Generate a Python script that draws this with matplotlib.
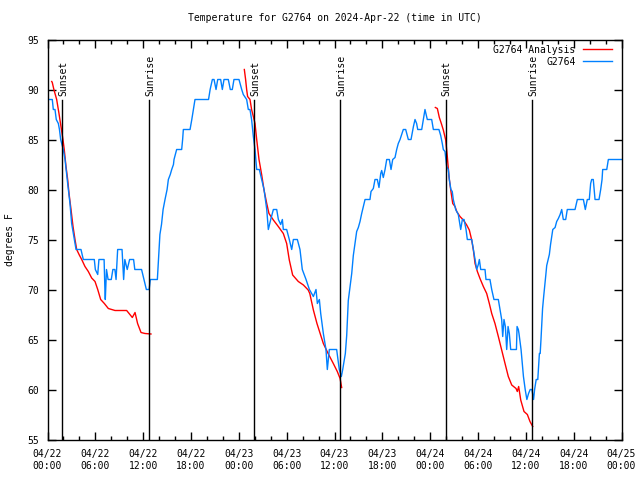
import matplotlib
matplotlib.use("Agg")
import numpy as np
import matplotlib.pyplot as plt
from matplotlib.ticker import MultipleLocator

# hours since 2024-04-22 00:00 UTC, temperatures in deg F
obs_hours = [0.0, 0.6, 0.73, 0.94, 1.1, 1.36, 1.5, 1.65, 1.98, 2.2, 2.53, 2.82, 3.03, 3.36,
             3.58, 4.2, 4.49, 5.87, 6.0, 6.3, 6.45, 7.1, 7.2, 7.25, 7.4, 7.6, 8.0, 8.2, 8.45,
             8.6, 8.8, 9.35, 9.55, 9.7, 10.0, 10.3, 10.8, 10.95, 11.8, 12.1, 12.4, 12.75, 12.9,
             13.78, 14.1, 14.3, 14.5, 14.74, 15.0, 15.16, 15.4, 15.58, 15.8, 15.87, 16.2, 16.83,
             16.95, 17.04, 17.88, 18.1, 18.3, 18.5, 20.2, 20.4, 20.68, 20.89, 21.14, 21.35,
             21.72, 21.93, 22.14, 22.68, 22.93, 23.18, 23.39, 24.02, 24.36, 24.56, 24.98, 25.19,
             25.4, 25.6, 25.82, 26.03, 26.24, 26.57, 26.87, 27.16, 27.5, 27.7, 28.0, 28.33,
             28.75, 28.96, 29.25, 29.46, 29.58, 30.0, 30.33, 30.63, 30.84, 31.34, 31.67, 31.96,
             32.43, 32.85, 33.35, 33.68, 33.85, 34.1, 34.27, 34.6, 34.93, 35.1, 35.35, 36.27,
             36.6, 36.86, 37.03, 37.15, 37.36, 37.53, 37.73, 37.95, 38.16, 38.36, 38.57, 38.78,
             38.99, 39.2, 39.41, 39.62, 39.83, 40.45, 40.58, 40.87, 41.08, 41.37, 41.58, 41.8,
             41.92, 42.12, 42.34, 42.55, 42.88, 43.09, 43.3, 43.59, 43.8, 44.0, 44.22, 44.43,
             44.63, 44.93, 45.26, 45.6, 45.9, 46.1, 46.3, 46.44, 46.94, 47.14, 47.35, 47.64,
             48.19, 48.4, 49.1, 49.32, 49.52, 49.65, 49.86, 50.07, 50.28, 50.4, 50.6, 50.77,
             50.9, 51.2, 51.53, 51.83, 52.04, 52.25, 52.5, 52.66, 53.21, 53.42, 53.63, 53.84,
             54.04, 54.17, 54.34, 54.88, 55.0, 55.5, 55.72, 56.0, 56.55, 56.76, 56.97, 57.1,
             57.26, 57.43, 57.6, 57.77, 57.93, 58.1, 58.82, 58.9, 59.06, 59.14, 59.4, 59.7,
             59.92, 60.13, 60.34, 60.55, 60.76, 60.97, 61.1, 61.3, 61.5, 61.7, 61.8, 61.9, 62.0,
             62.1, 62.25, 62.38, 62.5, 62.62, 62.8, 62.95, 63.1, 63.25, 63.38, 63.67, 63.87,
             64.08, 64.3, 64.5, 64.7, 65.0, 65.2, 66.17, 66.46, 67.22, 67.46, 67.71, 67.96,
             68.13, 68.26, 68.46, 68.68, 69.18, 69.39, 69.56, 69.64, 70.15, 70.35, 72.0]
obs_temps = [89, 89, 88, 88, 87, 86.6, 86, 85, 84, 83, 80.6, 78.6, 76.6, 75,
             74, 74, 73, 73, 72, 71.5, 73, 73, 70, 69, 72, 71, 71, 72, 72,
             71, 74, 74, 71, 73, 72, 73, 73, 72, 72, 71, 70, 70, 71,
             71, 75.5, 76.5, 78, 79, 80, 81, 81.5, 82, 82.5, 83, 84, 84,
             85, 86, 86, 87, 88, 89, 89, 90, 91, 91, 90, 91,
             91, 90, 91, 91, 90, 90, 91, 91, 90, 89.5, 89, 88,
             88, 87, 85.3, 84, 82, 82, 81, 80, 78, 76, 77, 78,
             78, 77, 76.5, 77, 76, 76, 75, 74, 75, 75, 74, 72,
             71, 70, 69.3, 70, 68.6, 69, 67.6, 65.6, 64, 62, 64, 64,
             62, 61.3, 62, 62.6, 63.6, 65.4, 68.9, 70.3, 71.6, 73.4, 74.6, 75.8,
             76.2, 76.8, 77.6, 78.3, 79, 79, 79.8, 80.1, 81, 81, 80.2, 81.6,
             81.9, 81.2, 82, 83, 83, 82, 83, 83.2, 84, 84.6, 85, 85.5,
             86, 86, 85, 85, 86.3, 87, 86.6, 86, 86, 87, 88, 87,
             87, 86, 86, 85.4, 84.6, 84, 83.8, 82.3, 82, 81, 80, 79.8,
             79, 78, 77.5, 76, 77, 77, 76, 75, 75, 74, 73, 72,
             72.5, 73, 72, 72, 71, 71, 70, 69, 69, 68, 67, 65.3,
             67, 66.3, 64, 66.3, 65.6, 64, 64, 66.3, 66, 65.6, 64, 61.3,
             60, 59, 59.6, 60, 60, 59, 60, 61, 61, 63.6, 63.6, 65, 66.6,
             68.1, 69.4, 70.4, 71.4, 72.4, 73, 73.5, 74.5, 75.3, 76, 76.2, 76.8,
             77.1, 77.5, 78, 77, 77, 78, 78, 79, 79, 78, 79, 79,
             80.6, 81, 81, 79, 79, 80, 81, 82, 82, 83, 83]

ana1_hours = [0.53, 0.6, 0.8, 1.15, 1.44, 1.69, 1.94, 2.1, 2.32, 2.53, 2.7, 2.95, 3.2, 3.45,
              3.66, 3.99, 4.29, 4.7, 5.12, 5.54, 5.96, 6.3, 6.67, 7.13, 7.63, 8.47, 9.93,
              10.64, 10.98, 11.3, 11.73, 12.23, 12.98]
ana1_temps = [90.8, 90.7, 90.0, 89.0, 87.6, 86.3, 85.0, 84.0, 82.3, 81.0, 79.6, 78.0, 76.3, 75.0,
              74.0, 73.45, 73.0, 72.3, 71.8, 71.15, 70.8, 70.0, 69.0, 68.6, 68.1, 67.9, 67.9,
              67.2, 67.7, 66.6, 65.7, 65.6, 65.55]
ana2_hours = [24.69, 24.85, 24.98, 25.1, 25.4, 25.6, 25.82, 26.03, 26.24, 26.53, 26.87, 27.16,
              27.5, 27.78, 28.33, 28.95, 29.58, 30.0, 30.33, 30.75, 31.46, 32.1, 32.7, 32.9,
              33.35, 33.8, 34.2, 34.6, 35.2, 35.85, 36.35, 36.7, 36.9]
ana2_temps = [92.0, 91.0, 90.0, 89.3, 89.0, 88.0, 87.3, 86.6, 85.0, 83.0, 81.45, 79.95,
              78.6, 77.6, 76.95, 76.3, 75.6, 74.6, 72.95, 71.45, 70.8, 70.45, 69.95, 69.6,
              67.95, 66.6, 65.6, 64.6, 63.6, 62.6, 61.8, 61.1, 60.2]
ana3_hours = [48.65, 48.9, 49.15, 49.4, 49.65, 49.95, 50.15, 50.36, 50.58, 50.83, 51.12, 51.33,
              51.74, 52.16, 52.58, 52.91, 53.21, 53.42, 53.63, 53.92, 54.25, 54.67, 55.09,
              55.42, 55.72, 56.13, 56.55, 56.97, 57.39, 57.8, 58.23, 58.77, 58.93, 59.1, 59.36,
              59.77, 60.19, 60.52, 60.86]
ana3_temps = [88.2, 88.1, 87.2, 86.6, 85.95, 84.95, 83.3, 81.3, 79.95, 78.6, 78.3, 77.8,
              77.3, 76.95, 76.45, 75.95, 74.95, 73.95, 72.6, 71.8, 71.1, 70.3, 69.6,
              68.6, 67.6, 66.6, 65.3, 63.95, 62.6, 61.3, 60.45, 60.1, 59.8, 60.3, 58.95,
              57.8, 57.5, 56.8, 56.3]

sun_hours = [1.86, 12.77, 25.94, 36.73, 49.95, 60.81]
sun_labels = ["Sunset", "Sunrise", "Sunset", "Sunrise", "Sunset", "Sunrise"]
sun_line_top = 89.0

tick_hours = list(range(0, 73, 6))
tick_labels = ["04/22\n00:00", "04/22\n06:00", "04/22\n12:00", "04/22\n18:00",
               "04/23\n00:00", "04/23\n06:00", "04/23\n12:00", "04/23\n18:00",
               "04/24\n00:00", "04/24\n06:00", "04/24\n12:00", "04/24\n18:00",
               "04/25\n00:00"]

plt.rcParams['font.family'] = ['DejaVu Sans Mono']
fs = 7

fig = plt.figure(figsize=(6.4, 4.8), dpi=100)
ax = fig.add_axes([47.5 / 640, 40.5 / 480, 574 / 640, 400 / 480])

# analysis segments joined with gaps so the legend has one entry
ana_h = ana1_hours + [np.nan] + ana2_hours + [np.nan] + ana3_hours
ana_t = ana1_temps + [np.nan] + ana2_temps + [np.nan] + ana3_temps
ax.plot(ana_h, ana_t, color="#ff0000", lw=1.0, label="G2764 Analysis")
ax.plot(obs_hours, obs_temps, color="#0080ff", lw=1.0, label="G2764")

for h, lab in zip(sun_hours, sun_labels):
    ax.plot([h, h], [55, sun_line_top], color="black", lw=1.0)
    ax.text(h + 0.1, sun_line_top + 0.4, lab, rotation=90, ha="center", va="bottom",
            fontsize=fs)

ax.set_xlim(0, 72)
ax.set_ylim(55, 95)
ax.set_xticks(tick_hours)
ax.set_xticklabels(tick_labels, fontsize=fs)
ax.xaxis.set_minor_locator(MultipleLocator(2))
ax.yaxis.set_major_locator(MultipleLocator(5))
ax.tick_params(axis="both", which="major", direction="in", length=6, width=1,
               top=True, right=True, labelsize=fs, pad=6)
ax.tick_params(axis="x", which="minor", direction="in", length=3, width=1, top=True)
ax.tick_params(axis="x", which="major", pad=7)
for s in ax.spines.values():
    s.set_linewidth(1.0)

ax.set_ylabel("degrees F", fontsize=fs, labelpad=9)
ax.set_title("Temperature for G2764 on 2024-Apr-22 (time in UTC)", fontsize=fs, pad=13)

ax.legend(loc="upper right", bbox_to_anchor=(0.997, 1.008), markerfirst=False,
          frameon=False, fontsize=fs, handlelength=2.9, handletextpad=0.8,
          labelspacing=0.2, borderaxespad=0.45)

fig.savefig("out.png", dpi=100)
